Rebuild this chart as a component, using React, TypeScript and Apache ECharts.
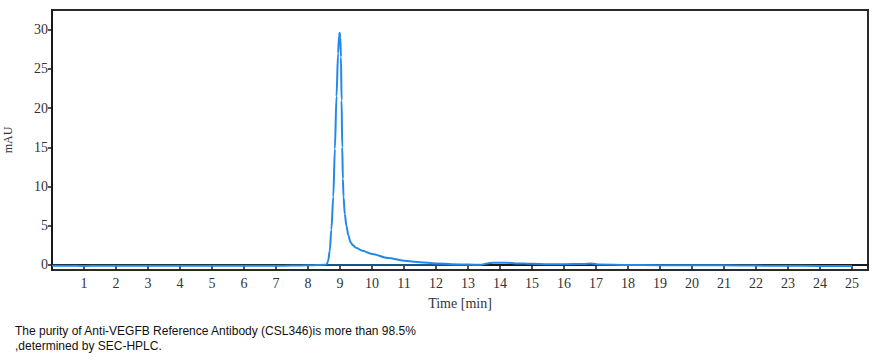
import React, { useEffect, useRef } from "react";
import * as echarts from "echarts";

const timeMin: number[] = [
  0, 0.5, 1, 1.5, 2, 2.5, 3, 3.5, 4, 4.5, 5, 5.5, 6, 6.5, 7, 7.5, 8, 8.3, 8.5, 8.58, 8.63, 8.68, 8.73, 8.79, 8.84, 8.89,
  8.94, 8.97, 8.99, 9.01, 9.03, 9.05, 9.07, 9.09, 9.11, 9.15, 9.2, 9.26, 9.33, 9.4, 9.5, 9.7, 10, 10.5, 11, 11.5, 12,
  12.5, 13, 13.4, 13.6, 13.8, 14.2, 14.5, 15, 15.5, 16, 16.6, 16.85, 17.1, 18, 19, 20, 21, 22, 23, 24, 25,
];
const signalMAU: number[] = [
  -0.1, -0.1, -0.12, -0.1, -0.1, -0.11, -0.1, -0.1, -0.1, -0.1, -0.1, -0.1, -0.1, -0.1, -0.1, -0.08, -0.05, 0, 0.02,
  0.05, 0.5, 1.8, 4.5, 8.7, 14.8, 21.5, 27, 29.2, 29.6, 29, 26.5, 21, 15, 11, 8.7, 6.5, 5, 3.8, 2.9, 2.5, 2.2, 1.8, 1.4,
  0.9, 0.55, 0.35, 0.2, 0.1, 0.05, 0.02, 0.2, 0.3, 0.28, 0.2, 0.15, 0.1, 0.1, 0.12, 0.2, 0.05, 0, -0.02, -0.05, -0.05,
  -0.08, -0.1, -0.12, -0.12,
];
const baselineTime: number[] = [8.6, 13.45];
const baselineMAU: number[] = [0, 0];
const yTicks: number[] = [0, 5, 10, 15, 20, 25, 30];
const xTicks: number[] = [1, 2, 3, 4, 5, 6, 7, 8, 9, 10, 11, 12, 13, 14, 15, 16, 17, 18, 19, 20, 21, 22, 23, 24, 25];
const captionLines: string[] = [
  "The purity of Anti-VEGFB Reference Antibody (CSL346)is more than 98.5%",
  ",determined by SEC-HPLC.",
];

export default function App() {
  const ref = useRef<HTMLDivElement>(null);
  useEffect(() => {
    if (!ref.current) return;
    const chart = echarts.init(ref.current, null, { renderer: "svg" });
    const lineColor = "#2389e8";
    const axisColor = "#1a1a1a";
    const serif = "'Liberation Serif', 'DejaVu Serif', serif";
    chart.setOption({
      animation: false,
      backgroundColor: "#ffffff",
      grid: {
        left: 52,
        top: 10,
        right: 27,
        bottom: 93,
        show: true,
        borderColor: "#2a2a2a",
        borderWidth: 2,
        backgroundColor: "transparent",
        containLabel: false,
        outerBoundsMode: "none",
      },
      xAxis: {
        type: "value",
        min: 0,
        max: 25.5,
        name: "Time [min]",
        nameLocation: "middle",
        nameGap: 26,
        nameTextStyle: { fontFamily: serif, fontSize: 14, color: "#333" },
        splitLine: { show: false },
        axisLine: { lineStyle: { color: axisColor, width: 2 } },
        axisTick: { customValues: xTicks, length: 5, lineStyle: { color: axisColor, width: 1.5 } },
        axisLabel: {
          customValues: xTicks,
          margin: 6,
          fontFamily: serif,
          fontSize: 14,
          color: "#333",
        },
      },
      yAxis: {
        type: "value",
        min: -0.64,
        max: 32.5,
        name: "mAU",
        nameLocation: "middle",
        nameRotate: 90,
        nameGap: 38,
        nameTextStyle: { fontFamily: serif, fontSize: 12, color: "#333" },
        splitLine: { show: false },
        axisLine: { lineStyle: { color: axisColor, width: 2 } },
        axisTick: { customValues: yTicks, length: 4, lineStyle: { color: axisColor, width: 1.5 } },
        axisLabel: {
          customValues: yTicks,
          margin: 4,
          fontFamily: serif,
          fontSize: 14,
          color: "#333",
        },
      },
      series: [
        {
          type: "line",
          data: timeMin.map((t, i) => [t, signalMAU[i]]),
          showSymbol: false,
          smooth: 0.3,
          smoothMonotone: "x",
          lineStyle: { color: lineColor, width: 2 },
          itemStyle: { color: lineColor },
        },
        {
          type: "line",
          data: baselineTime.map((t, i) => [t, baselineMAU[i]]),
          showSymbol: false,
          lineStyle: { color: lineColor, width: 1 },
          itemStyle: { color: lineColor },
        },
      ],
      graphic: captionLines.map((line, i) => ({
        type: "text",
        left: 15,
        top: 325 + i * 15,
        style: {
          text: line,
          fontFamily: "'Liberation Sans', Arial, sans-serif",
          fontSize: 12,
          fill: "#111",
        },
      })),
    });
    return () => chart.dispose();
  }, []);
  return (
    <div
      ref={ref}
      style={{ position: "fixed", left: 0, top: 0, width: 895, height: 363, background: "#fff" }}
    />
  );
}
